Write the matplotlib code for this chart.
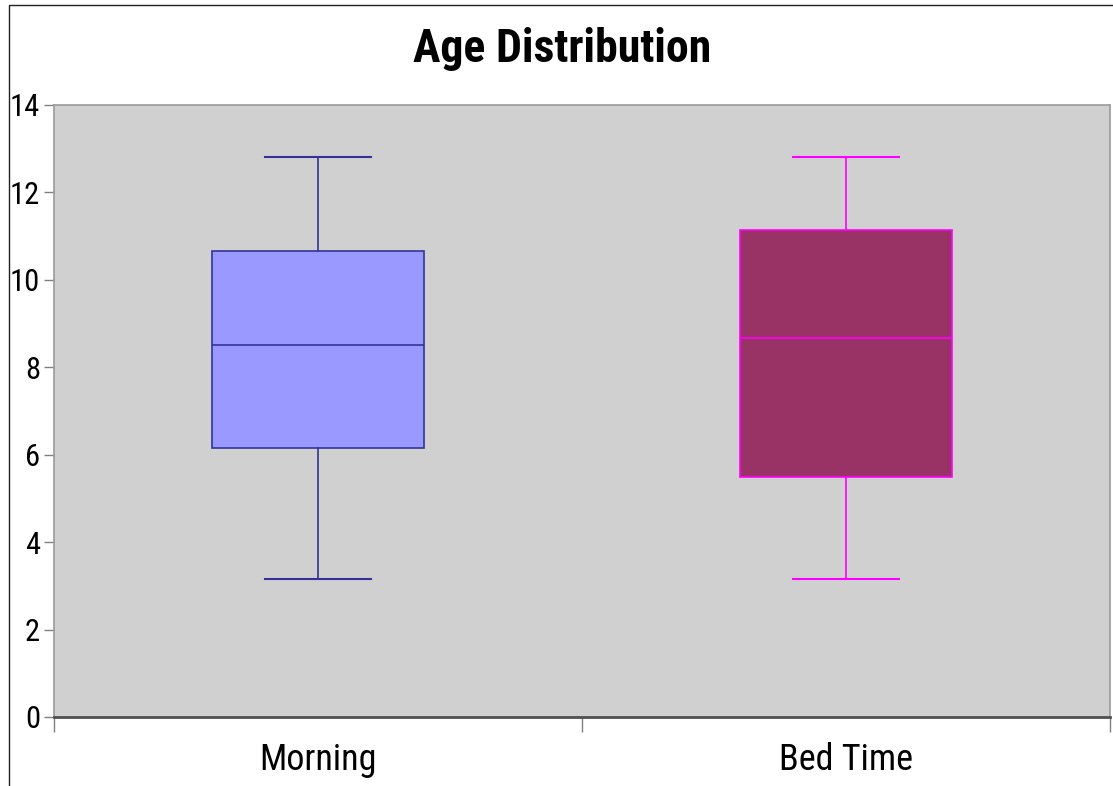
import matplotlib
matplotlib.use('Agg')
import matplotlib.pyplot as plt
from matplotlib.patches import Rectangle

plt.rcParams['font.family'] = ['Liberation Sans Narrow', 'Roboto Condensed',
                               'Liberation Sans', 'DejaVu Sans']

# five-number summaries for each group
groups = ['Morning', 'Bed Time']
whisker_low = [3.15, 3.15]
q1 = [6.15, 5.5]
median = [8.52, 8.67]
q3 = [10.65, 11.13]
whisker_high = [12.82, 12.82]

face_colors = ['#9999FF', '#993366']
edge_colors = ['#333399', '#FF00FF']

fig = plt.figure(figsize=(11.13, 7.86), dpi=100)
ax = fig.add_axes([54 / 1113, 1 - 717 / 786, 1056 / 1113, 612 / 786])
ax.set_facecolor('#D0D0D0')

positions = [0.5, 1.5]
for i in range(len(groups)):
    stats = [{'whislo': whisker_low[i], 'q1': q1[i], 'med': median[i],
              'q3': q3[i], 'whishi': whisker_high[i], 'fliers': []}]
    ec = edge_colors[i]
    ax.bxp(stats, positions=[positions[i]], widths=0.4, patch_artist=True,
           showfliers=False,
           boxprops=dict(facecolor=face_colors[i], edgecolor=ec, linewidth=1.2),
           whiskerprops=dict(color=ec, linewidth=1.2),
           capprops=dict(color=ec, linewidth=1.5),
           medianprops=dict(color=ec, linewidth=1.2),
           capwidths=0.2)

ax.set_xlim(0, 2)
ax.set_ylim(0, 14)
ax.set_yticks(range(0, 15, 2))
ax.tick_params(axis='y', labelsize=22, direction='out', length=7, width=1,
               color='#808080', pad=3)

# category separators as major ticks, names on minor ticks
ax.set_xticks([0, 1, 2])
ax.set_xticklabels([])
ax.set_xticks(positions, minor=True)
ax.set_xticklabels(groups, minor=True, fontsize=26)
ax.tick_params(axis='x', which='major', direction='out', length=11, width=1,
               color='#808080')
ax.tick_params(axis='x', which='minor', length=0, pad=18)

for side in ['top', 'right', 'left']:
    ax.spines[side].set_color('#9A9A9A')
    ax.spines[side].set_linewidth(1.2)
ax.spines['bottom'].set_color('#505050')
ax.spines['bottom'].set_linewidth(2)

fig.text(0.505, 1 - 49 / 786, 'Age Distribution', ha='center', va='center',
         fontsize=33, fontweight='bold')

# outer chart frame
fig.patches.append(Rectangle((9 / 1113, -0.05), 1.1, 1.05 - 5 / 786,
                             transform=fig.transFigure, fill=False,
                             edgecolor='#202020', linewidth=1))

fig.savefig('out.png', dpi=100)
